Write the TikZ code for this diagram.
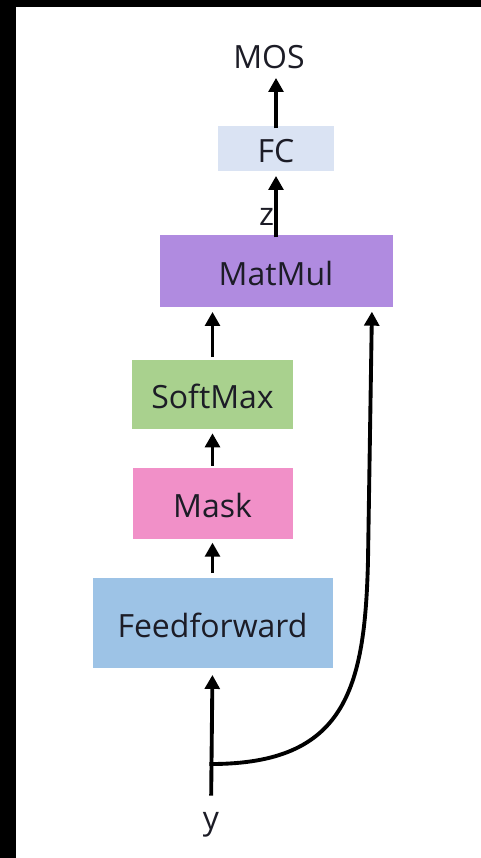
\documentclass[tikz,border=0pt]{standalone}
\usepackage{fontspec}
\setmainfont{Open Sans}
\usetikzlibrary{arrows.meta,calc}
\definecolor{fcfill}{HTML}{DAE3F3}
\definecolor{mmfill}{HTML}{B08BE0}
\definecolor{smfill}{HTML}{A9D18E}
\definecolor{mkfill}{HTML}{F190C8}
\definecolor{fffill}{HTML}{9DC3E6}
\definecolor{ink}{HTML}{1C1C26}
\begin{document}
\begin{tikzpicture}[x=0.75pt,y=-0.75pt,
  layer/.style={draw=none,fill=#1,inner sep=0pt,text=ink,
    font=\fontsize{24}{28}\selectfont,text height=21pt,text depth=0pt},
  term/.style={text=ink,font=\fontsize{24}{28}\selectfont,inner sep=0pt},
  flow/.style={line width=2.9pt,-{Triangle[length=10.5pt,width=11pt]}},
  wire/.style={line width=2.9pt}]
  % frame
  \fill[black] (0,0) rectangle (481,858);
  \fill[white] (16,7) rectangle (481,858);
  \useasboundingbox (0,0) rectangle (481,858);

  % layers
  \node[layer=fcfill,minimum width=87pt,minimum height=33.75pt] (fc) at (276,148.5) {FC};
  \node[layer=mmfill,minimum width=174.75pt,minimum height=54pt] (mm) at (276,271) {MatMul};
  \node[layer=smfill,minimum width=120.75pt,minimum height=51.75pt] (sm) at (212.5,394.5) {SoftMax};
  \node[layer=mkfill,minimum width=120pt,minimum height=53.25pt] (mk) at (212.5,503.5) {Mask};
  \node[layer=fffill,minimum width=180pt,minimum height=67.5pt] (ff) at (212.5,623) {Feedforward};

  % input and output terms
  \node[term,anchor=base] (mos) at (269,68) {MOS};
  \node[term,anchor=base] (yin) at (211,829) {y};

  % main path
  \draw[flow,shorten <=-2pt,shorten >=7pt] (fc.north) -- (fc.north |- mos.south);
  \draw[flow,shorten <=-2pt,shorten >=3.5pt] (mm.north) -- node[pos=0.12,anchor=south east,inner xsep=4pt,inner ysep=0pt,term] {z} (fc.south);
  \draw[flow,shorten <=2pt,shorten >=3.5pt] (sm.north) -- (sm.north |- mm.south);
  \draw[flow,shorten <=1.5pt,shorten >=3pt] (mk.north) -- (sm.south);
  \draw[flow,shorten <=3.5pt,shorten >=2.5pt] (ff.north) -- (mk.south);
  \draw[flow,shorten <=12pt,shorten >=5pt] (yin.north) -- (ff.south);

  % skip path from y into MatMul
  \coordinate (br) at (211,764);
  \coordinate (bend) at (368,560);
  \coordinate (mmin) at (372,307);
  \draw[wire] ([xshift=-1.2pt]br) -- (br) .. controls (345,764) and (365,690) .. (bend);
  \draw[flow,shorten >=3.5pt] (bend) -- (mmin);
\end{tikzpicture}
\end{document}
